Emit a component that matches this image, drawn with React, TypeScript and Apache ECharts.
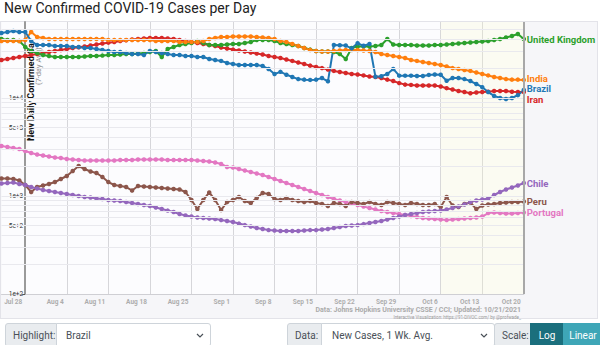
import React, { useEffect, useRef } from 'react';
import * as echarts from 'echarts';

const dates = [
  'Jul 24','Jul 25','Jul 26','Jul 27','Jul 28','Jul 29','Jul 30','Jul 31',
  'Aug 1','Aug 2','Aug 3','Aug 4','Aug 5','Aug 6','Aug 7','Aug 8','Aug 9','Aug 10','Aug 11','Aug 12','Aug 13','Aug 14','Aug 15','Aug 16','Aug 17','Aug 18','Aug 19','Aug 20','Aug 21','Aug 22','Aug 23','Aug 24','Aug 25','Aug 26','Aug 27','Aug 28','Aug 29','Aug 30','Aug 31',
  'Sep 1','Sep 2','Sep 3','Sep 4','Sep 5','Sep 6','Sep 7','Sep 8','Sep 9','Sep 10','Sep 11','Sep 12','Sep 13','Sep 14','Sep 15','Sep 16','Sep 17','Sep 18','Sep 19','Sep 20','Sep 21','Sep 22','Sep 23','Sep 24','Sep 25','Sep 26','Sep 27','Sep 28','Sep 29','Sep 30',
  'Oct 1','Oct 2','Oct 3','Oct 4','Oct 5','Oct 6','Oct 7','Oct 8','Oct 9','Oct 10','Oct 11','Oct 12','Oct 13','Oct 14','Oct 15','Oct 16','Oct 17','Oct 18','Oct 19','Oct 20'
];

const weekLabels = ['Jul 28','Aug 4','Aug 11','Aug 18','Aug 25','Sep 1','Sep 8','Sep 15','Sep 22','Sep 29','Oct 6','Oct 13','Oct 20'];

const unitedKingdom = [
  40000,39100,39100,38200,33100,30200,28800,27500,26800,26200,
  26200,26200,26200,26200,26500,26800,26800,27100,27500,27500,
  27800,28100,28100,28400,28800,29500,30200,26200,31600,33100,
  34700,35600,36400,38200,36400,34700,34700,34700,35100,35600,
  35600,36400,37300,39100,39100,39100,38200,36400,35600,34700,
  33900,32400,31200,30200,29800,29800,29500,28100,25000,32400,
  33500,33500,33500,33900,34700,40000,35100,34700,34700,34700,
  34300,34300,34300,34700,34700,35100,35600,36000,36400,36800,
  37300,37700,38200,39100,40000,41400,42900,45000,40000
];

const india = [
  38200,38200,38200,38200,39100,47200,41900,41000,40000,40000,
  40000,40000,40000,40000,40000,40000,40000,40000,39100,39100,
  39100,39100,39100,39100,39100,39100,38200,38200,38200,38200,
  37300,37300,37300,37300,38200,40000,41000,41900,41900,42400,
  42400,42400,42400,41900,41400,41000,40000,38200,37300,35600,
  33900,32400,30900,30200,29800,29800,30200,30500,30900,30900,
  30900,30500,30200,29500,28100,27500,26800,26200,25600,24400,
  23900,23300,22800,22200,21700,21000,20200,19800,19300,18900,
  18200,17600,17000,16400,16000,15600,15400,15400,15300
];

const brazil = [
  46100,47200,48300,47200,47200,38200,34700,34700,34700,33900,
  33900,33900,33100,33100,32400,32400,31600,30900,30200,29500,
  29500,28800,28100,28100,27500,30200,29500,28800,28100,27500,
  27500,26800,26800,26200,26200,25000,24400,23900,22800,22200,
  21700,21700,21700,21700,21200,19800,17600,18500,17300,16400,
  15600,15400,15300,15400,16000,14800,34700,34500,34300,32100,
  36200,34100,35600,16500,16700,17600,19800,16900,16900,16900,
  16800,16800,17200,17400,17300,15000,16000,16000,15600,14900,
  13900,12900,11500,10500,10000,9770,10000,10700,12100
];

const iran = [
  24400,25000,25600,26200,26800,27500,28100,28800,29500,30200,
  30900,31600,32400,32900,33500,34300,35100,36000,36700,37300,
  38200,38800,39500,40000,40500,41000,41000,41000,40500,40000,
  39100,38200,37300,36400,35600,34700,33900,32700,32000,31200,
  30500,29800,29100,28400,27800,26800,26200,25600,24700,23900,
  23000,22200,21400,20700,20200,19500,18900,18400,18000,17600,
  17400,17000,16600,16400,16000,15400,14900,14200,13700,13600,
  13400,13400,13400,13400,13100,12600,12200,11800,11500,11200,
  11400,11500,11600,11800,11800,11800,11600,11500,11500
];

const chile = [
  1341,1357,1373,1326,1295,1235,1193,1151,1125,1099,
  1073,1048,1024,1000,977,965,943,932,910,900,
  889,868,848,828,809,790,763,736,710,686,
  655,632,617,603,596,589,582,568,555,542,
  523,505,488,471,460,449,444,439,439,439,
  439,444,449,449,455,460,471,482,494,500,
  505,517,530,542,555,575,596,617,639,655,
  670,686,694,702,710,727,754,781,818,868,
  900,921,943,1024,1099,1165,1221,1280,1357
];

const peru = [
  1508,1508,1491,1439,1295,1099,1235,1280,1326,1389,
  1491,1600,1799,2024,1886,1778,1717,1563,1389,1295,
  1265,1235,1138,1265,1250,1235,1221,1207,1193,1179,
  1165,1099,910,736,910,1086,910,719,868,910,
  977,889,848,954,1073,1048,932,910,954,910,
  889,868,889,848,828,790,848,828,790,868,
  848,828,868,828,809,868,848,828,809,848,
  828,809,809,828,772,977,800,772,828,858,
  736,800,818,828,848,858,868,868,878
];

const portugal = [
  3237,3162,3089,3017,2878,2746,2650,2590,2530,2470,
  2442,2385,2357,2330,2303,2303,2303,2303,2303,2303,
  2330,2330,2330,2357,2357,2357,2357,2357,2330,2330,
  2330,2330,2330,2303,2276,2250,2197,2121,1977,1954,
  1886,1820,1758,1697,1638,1563,1491,1422,1357,1295,
  1235,1179,1125,1073,1024,977,932,900,868,838,
  809,781,754,727,702,686,670,655,639,625,
  610,596,589,582,575,568,575,582,589,596,
  603,617,670,678,670,662,662,670,678
];

const yTickValues = [100, 500, 1000, 5000, 10000];
const gridValues = [
  200, 300, 400, 500, 600, 700, 800, 900, 1000,
  2000, 3000, 4000, 5000, 6000, 7000, 8000, 9000, 10000,
  20000, 30000, 40000, 50000
];

const countries = [
  { name: 'Portugal', data: portugal, color: '#e377c2', offset: [0, 0] },
  { name: 'Peru', data: peru, color: '#8c564b', offset: [0, 0] },
  { name: 'Chile', data: chile, color: '#9467bd', offset: [0, 0] },
  { name: 'Iran', data: iran, color: '#d62728', offset: [0, 7.5] },
  { name: 'United Kingdom', data: unitedKingdom, color: '#2ca02c', offset: [0, 0] },
  { name: 'India', data: india, color: '#ff7f0e', offset: [0, -1] },
  { name: 'Brazil', data: brazil, color: '#1f77b4', offset: [0, -1] },
];

const isWeek = (_i: number, v: string) => weekLabels.includes(v);

export default function App() {
  const ref = useRef<HTMLDivElement>(null);

  useEffect(() => {
    const chart = echarts.init(ref.current!, null, { renderer: 'svg' });
    const option: any = {
      animation: false,
      backgroundColor: 'transparent',
      title: {
        text: 'New Confirmed COVID-19 Cases per Day',
        left: 4,
        top: 1,
        padding: 0,
        textStyle: { fontSize: 14, fontWeight: 'normal', color: '#222', fontFamily: 'Roboto' },
      },
      grid: {
        left: 1.5,
        right: 76.2,
        top: 22,
        bottom: 26,
        show: true,
        backgroundColor: '#fcfcfe',
        borderWidth: 0,
        containLabel: false,
        outerBoundsMode: 'none',
      },
      xAxis: {
        type: 'category',
        data: dates,
        boundaryGap: false,
        axisLine: { onZero: false, lineStyle: { color: '#cfcfd4', width: 1 } },
        axisTick: { show: false },
        axisLabel: {
          interval: isWeek,
          align: 'right',
          margin: 4,
          padding: [0, 3, 0, 0],
          fontSize: 6.5,
          fontWeight: 'bold',
          color: '#adadad',
          fontFamily: 'Roboto',
        },
        splitLine: { show: true, interval: isWeek, lineStyle: { color: '#d6d6da', width: 1 } },
      },
      yAxis: {
        type: 'log',
        logBase: 10,
        min: 100,
        max: 59650,
        offset: -23.7,
        axisLine: { show: true, lineStyle: { color: '#9a9a9a', width: 2 } },
        axisTick: { show: true, length: 3, customValues: yTickValues, lineStyle: { color: '#555' } },
        axisLabel: {
          customValues: yTickValues,
          formatter: (v: number) => Number(v).toExponential(0),
          fontSize: 6.5,
          color: '#333',
          margin: 2,
          fontFamily: 'Roboto',
        },
        splitLine: { show: false },
      },
      graphic: {
        elements: [
          {
            type: 'text', x: 31, y: 141, rotation: Math.PI / 2, z: 1,
            style: {
              text: 'New Daily Confirmed Cases', fill: '#111', fontSize: 9, fontWeight: 'bold',
              fontFamily: 'Roboto', align: 'left', verticalAlign: 'middle',
              width: 100, overflow: 'truncate', ellipsis: '',
            },
          },
          {
            type: 'text', x: 38.5, y: 85, rotation: Math.PI / 2, z: 1,
            style: {
              text: '(7-day Avg)', fill: '#8a8a8a', fontSize: 7.5,
              fontFamily: 'Roboto', align: 'left', verticalAlign: 'middle',
            },
          },
          {
            type: 'text', x: 521, y: 310, z: 1,
            style: {
              text: 'Data: Johns Hopkins University CSSE / CCI; Updated: 10/21/2021',
              fill: '#ababab', fontSize: 7, fontWeight: 'bold', fontFamily: 'Roboto',
              align: 'right', verticalAlign: 'middle',
            },
          },
          {
            type: 'text', x: 521, y: 317.5, z: 1,
            style: {
              text: 'Interactive Visualization: https://91-DIVOC.com/ by @profwade_',
              fill: '#9a9a9a', fontSize: 4.5, fontFamily: 'Roboto',
              align: 'right', verticalAlign: 'middle',
            },
          },
        ],
      },
      series: [
        {
          name: 'grid',
          type: 'line',
          data: [],
          z: 1,
          silent: true,
          markArea: {
            silent: true,
            itemStyle: { color: 'rgba(250, 250, 200, 0.22)' },
            data: [[{ xAxis: 'Oct 6' }, { xAxis: 'Oct 20' }]],
          },
          markLine: {
            silent: true,
            symbol: 'none',
            label: { show: false },
            lineStyle: { color: '#e9e9ee', width: 1, type: 'solid' },
            data: [
              ...gridValues.map((v) => ({ yAxis: v })),
              { xAxis: 'Oct 20', lineStyle: { color: '#a8a8a8', width: 2, type: 'solid' } },
            ],
          },
        },
        ...countries.map((c) => ({
          name: c.name,
          type: 'line',
          data: c.data,
          symbol: 'circle',
          symbolSize: 4.5,
          showSymbol: true,
          showAllSymbol: true,
          lineStyle: { color: c.color, width: 2 },
          itemStyle: { color: c.color },
          emphasis: { disabled: true },
          z: 3,
          endLabel: {
            show: true,
            formatter: '{a}',
            color: c.color,
            fontSize: 9.5,
            lineHeight: 8,
            fontWeight: 'bold',
            fontFamily: 'Roboto',
            distance: 3,
            offset: c.offset,
          },
        })),
      ],
    };
    chart.setOption(option);
    return () => chart.dispose();
  }, []);

  const box: React.CSSProperties = {
    position: 'absolute', top: 323, height: 24, boxSizing: 'border-box',
    border: '1px solid #ced4da', display: 'flex', alignItems: 'center',
    fontSize: 10, color: '#495057', fontFamily: 'Roboto, sans-serif',
  };
  const chevron = (
    <svg width="8" height="5" style={{ position: 'absolute', right: 6, top: 9 }}>
      <polyline points="1,1 4,4 7,1" stroke="#495057" fill="none" strokeWidth="1.2" />
    </svg>
  );

  return (
    <div style={{ position: 'absolute', left: 0, top: 0, width: 600, height: 345, background: '#fff', overflow: 'hidden', fontFamily: 'Roboto, sans-serif' }}>
      <div style={{ position: 'absolute', left: 0, top: 21, width: 598, height: 298, background: '#f6f6f9', border: '1px solid #e3e3e9', boxSizing: 'border-box' }} />
      <div ref={ref} style={{ position: 'absolute', left: 0, top: 0, width: 600, height: 320 }} />
      <div style={{ ...box, left: 5, width: 52, background: '#e9ecef', borderRadius: '3px 0 0 3px', paddingLeft: 7 }}>Highlight:</div>
      <div style={{ ...box, left: 56, width: 155, background: '#fff', borderRadius: '0 3px 3px 0', paddingLeft: 9 }}>Brazil{chevron}</div>
      <div style={{ ...box, left: 287, width: 35, background: '#e9ecef', borderRadius: '3px 0 0 3px', paddingLeft: 7 }}>Data:</div>
      <div style={{ ...box, left: 321, width: 174, background: '#fff', borderRadius: '0 3px 3px 0', paddingLeft: 10 }}>New Cases, 1 Wk. Avg.{chevron}</div>
      <div style={{ ...box, left: 494, width: 37, background: '#e9ecef', borderRadius: '3px 0 0 3px', paddingLeft: 7 }}>Scale:</div>
      <div style={{ ...box, left: 530, width: 34, background: '#1b6f7d', border: '1px solid #1b6f7d', color: '#fff', justifyContent: 'center' }}>Log</div>
      <div style={{ ...box, left: 563, width: 40, background: '#3ea6b7', border: '1px solid #3ea6b7', color: '#fff', justifyContent: 'center' }}>Linear</div>
    </div>
  );
}
